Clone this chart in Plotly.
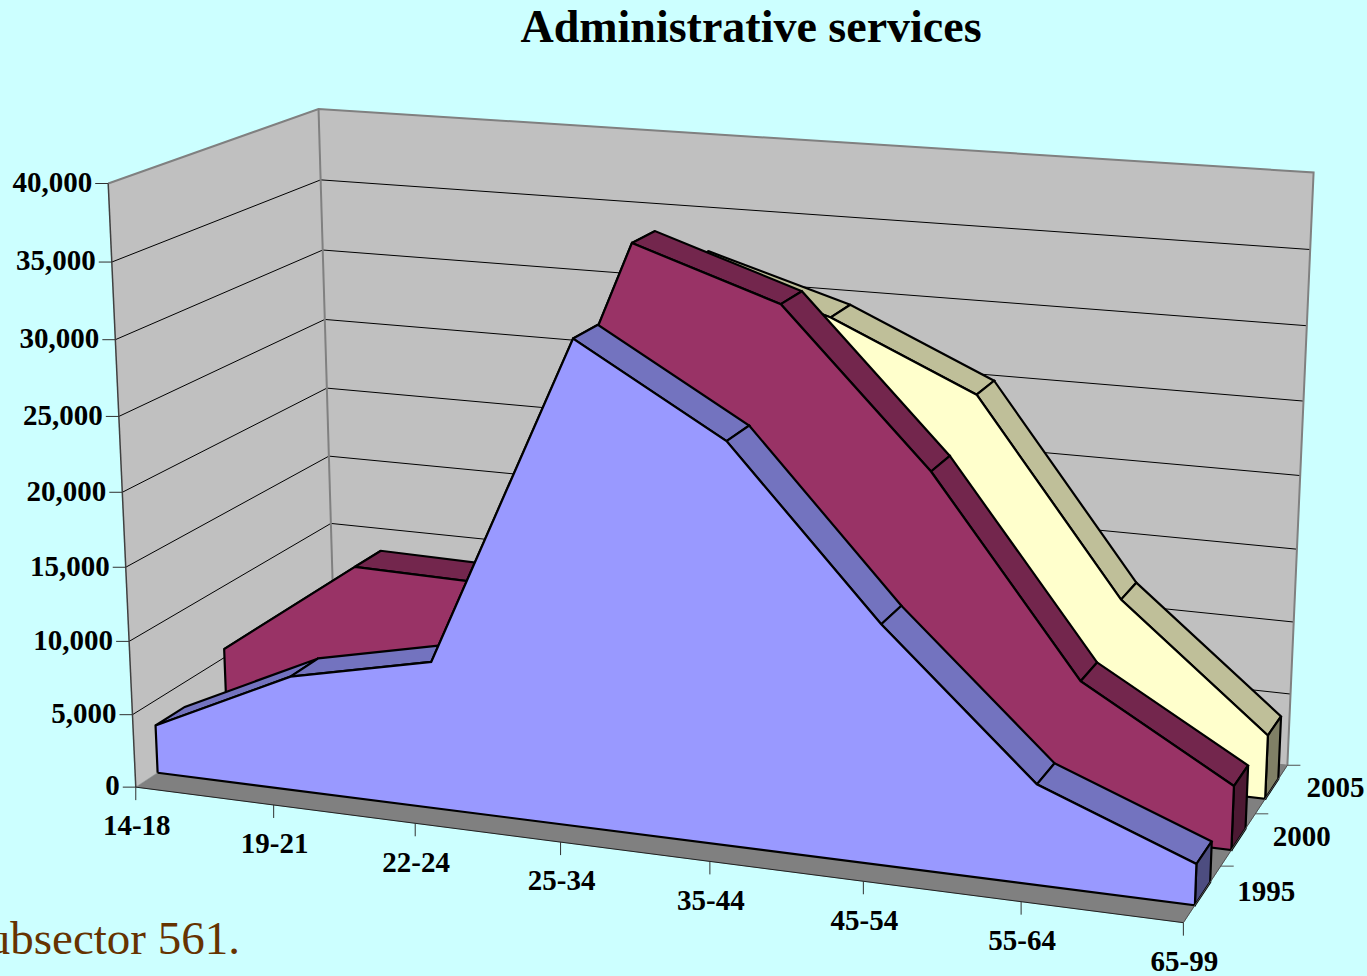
import numpy as np
import plotly.graph_objects as go

# ---- data ----
TITLE = "Administrative services"
CATEGORIES = ["14-18", "19-21", "22-24", "25-34", "35-44", "45-54", "55-64", "65-99"]
YEARS = ["1995", "2000", "2005"]
SERIES_1995 = [3300, 7800, 9900, 31800, 26200, 15600, 6500, 2650]
SERIES_2000 = [5600, 12450, 12250, 35850, 32650, 22700, 10000, 4250]
SERIES_2005 = [2800, 7000, 9000, 32600, 29700, 25350, 12500, 4350]
VALUE_TICKS = [0, 5000, 10000, 15000, 20000, 25000, 30000, 35000, 40000]
CAPTION = "ubsector 561."

# ---- styles ----
BG = "#CCFFFF"
WALL = "#C0C0C0"
FLOOR = "#808080"
FACE = ["#9999FF", "#993366", "#FFFFCC"]
TOP = ["#7373BF", "#73264D", "#BFBF99"]
SIDE = ["#4D4D80", "#4D1933", "#808066"]
FONT = "Liberation Serif"
TXT = 29
EDGE = 2.2
DEPTH_FRONT, DEPTH_BACK = 0.30, 0.71
DEPTH_LABEL_DX = [16.5, 17.5, 19]
DEPTH_LABEL_DY = [28, 25, 24]

# camera of the pseudo-3D box: (category index, depth index, value/10000) -> page pixels
CAMERA = np.array([
    [-0.16218199820503862, -0.09487936163593096, 0.009791828746162225, -0.16391045543753233],
    [-0.008960440455956769, 0.023833873296190276, 0.1846726021952531, -0.9502518698292309],
    [1.5620549363187797e-05, -4.413062314907387e-05, 1.3592864429874674e-05, -0.0012072201898070244],
])


def proj(u, w, v):
    q = CAMERA @ np.array([u, w, v / 10000.0, 1.0])
    return float(q[0] / q[2]), float(q[1] / q[2])


fig = go.Figure()


def poly(points, fill, line="black", width=EDGE):
    xs, ys = zip(*points)
    fig.add_trace(go.Scatter(x=list(xs) + [xs[0]], y=list(ys) + [ys[0]], mode="lines",
                             fill="toself", fillcolor=fill,
                             line=dict(color=line, width=width),
                             hoverinfo="skip", showlegend=False))


def seg(points, color, width):
    xs, ys = zip(*points)
    fig.add_trace(go.Scatter(x=list(xs), y=list(ys), mode="lines",
                             line=dict(color=color, width=width),
                             hoverinfo="skip", showlegend=False))


def text(x, y, s, pos, size=TXT, color="black", weight=700):
    fig.add_trace(go.Scatter(x=[x], y=[y], mode="text", text=[s], textposition=pos,
                             textfont=dict(family=FONT, size=size, color=color, weight=weight),
                             hoverinfo="skip", showlegend=False, cliponaxis=False))


NC = len(CATEGORIES) - 1
ND = len(YEARS)
VMAX = VALUE_TICKS[-1]

# walls and floor
poly([proj(0, 0, 0), proj(0, ND, 0), proj(0, ND, VMAX), proj(0, 0, VMAX)], WALL, WALL, 0.5)
poly([proj(0, ND, 0), proj(NC, ND, 0), proj(NC, ND, VMAX), proj(0, ND, VMAX)], WALL, WALL, 0.5)
poly([proj(0, 0, 0), proj(NC, 0, 0), proj(NC, ND, 0), proj(0, ND, 0)], FLOOR, FLOOR, 0.5)

# grid lines
for v in VALUE_TICKS[1:-1]:
    seg([proj(0, 0, v), proj(0, ND, v), proj(NC, ND, v)], "black", 1)
seg([proj(0, ND, 0), proj(NC, ND, 0)], FLOOR, 1)

# wall edges
seg([proj(0, 0, VMAX), proj(0, ND, VMAX), proj(NC, ND, VMAX), proj(NC, ND, 0)], FLOOR, 2)
seg([proj(0, ND, 0), proj(0, ND, VMAX)], FLOOR, 2)

# series, from back to front
ALL = [SERIES_1995, SERIES_2000, SERIES_2005]
for i in reversed(range(ND)):
    vals = ALL[i]
    f, b = i + DEPTH_FRONT, i + DEPTH_BACK
    for k in range(NC):
        poly([proj(k, f, vals[k]), proj(k + 1, f, vals[k + 1]),
              proj(k + 1, b, vals[k + 1]), proj(k, b, vals[k])], TOP[i])
    poly([proj(NC, f, 0), proj(NC, f, vals[-1]), proj(NC, b, vals[-1]), proj(NC, b, 0)], SIDE[i])
    poly([proj(0, f, 0)] + [proj(k, f, vals[k]) for k in range(NC + 1)] + [proj(NC, f, 0)], FACE[i])

# axes
seg([proj(0, 0, VMAX), proj(0, 0, 0)], "#404040", 1.5)
seg([proj(0, 0, 0), proj(NC, 0, 0)], "#202020", 1)
seg([proj(NC, 0, 0), proj(NC, ND, 0)], "#505050", 1)

for v in VALUE_TICKS:
    x, y = proj(0, 0, v)
    seg([(x - 13, y), (x, y)], "#303030", 1)
    text(x - 16, y + 1, f"{v:,}", "middle left")

for k, c in enumerate(CATEGORIES):
    x, y = proj(k, 0, 0)
    seg([(x, y), (x, y + 13)], "#303030", 1)
    text(x + 1, y + 41, c, "middle center")

for i, yr in enumerate(YEARS):
    x, y = proj(NC, i + 1, 0)
    seg([(x, y), (x + 13, y)], "#505050", 1)
    text(x + DEPTH_LABEL_DX[i], y + DEPTH_LABEL_DY[i], yr, "middle right")

# caption running off the left edge of the page, as in the reference
text(240, 942, CAPTION, "middle left", size=47, color="#663300", weight=400)

fig.update_layout(
    width=1367, height=976, margin=dict(l=0, r=0, t=0, b=0),
    paper_bgcolor=BG, plot_bgcolor=BG, showlegend=False,
    title=dict(text=TITLE, x=0.5494, xanchor="center", y=0.973, yanchor="middle",
               font=dict(family=FONT, size=46, color="black", weight=700)),
    xaxis=dict(range=[0, 1367], visible=False, fixedrange=True),
    yaxis=dict(range=[976, 0], visible=False, fixedrange=True),
)
fig.write_html("out.html", config=dict(displayModeBar=False),
               post_script="document.body.style.margin='0';document.body.style.overflow='hidden';")
